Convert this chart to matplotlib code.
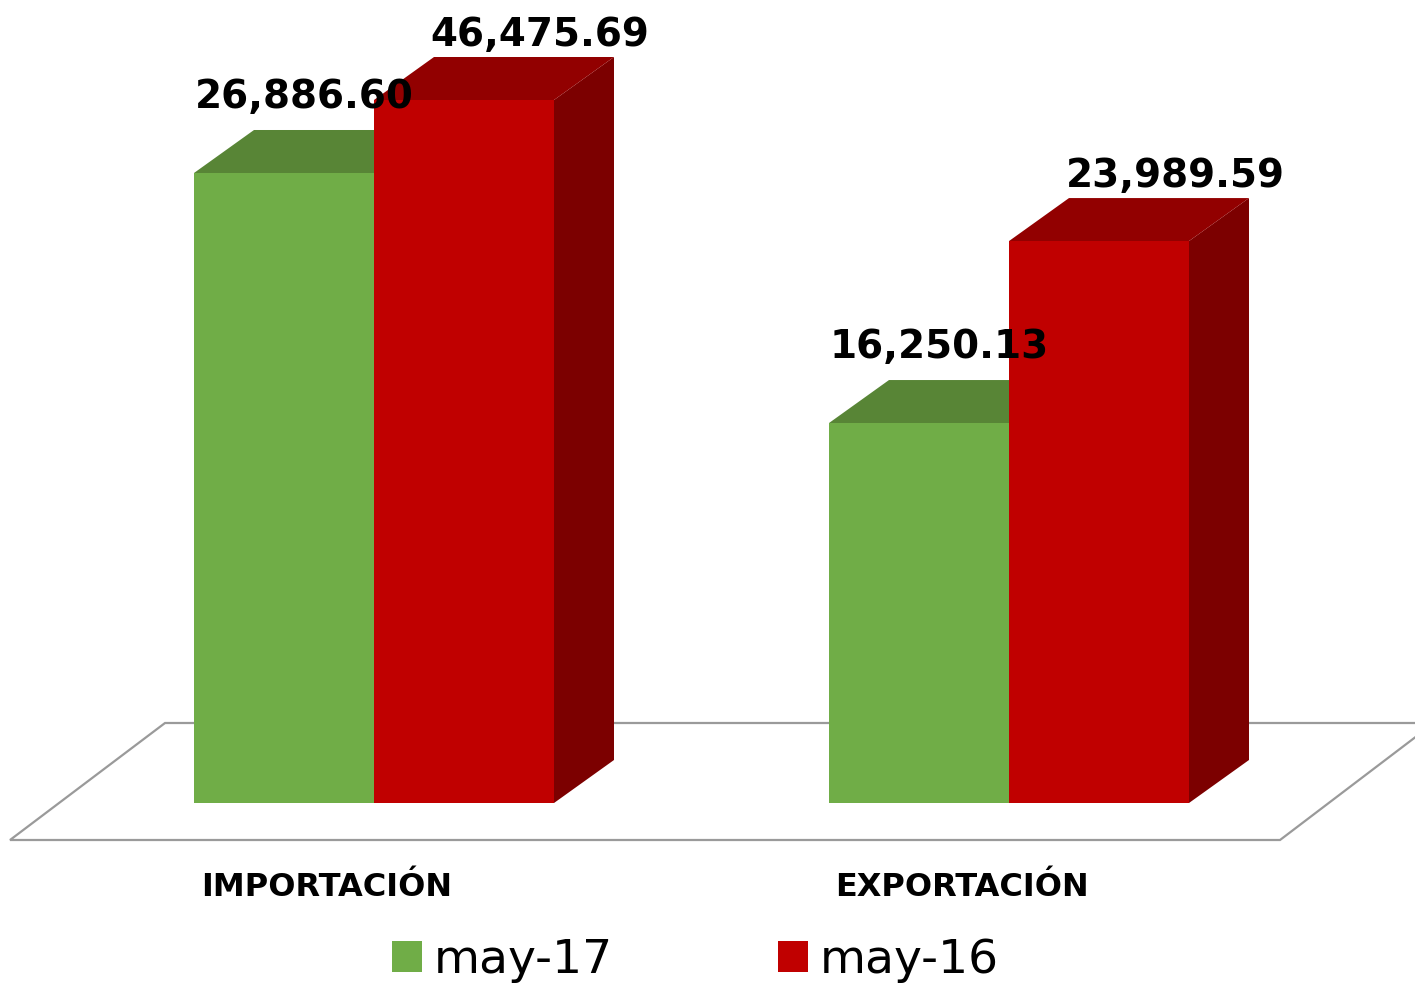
import matplotlib.pyplot as plt
from matplotlib.patches import Polygon, Patch

# datos
categories = ['IMPORTACIÓN', 'EXPORTACIÓN']
series = ['may-17', 'may-16']
values_may17 = [26886.60, 16250.13]
values_may16 = [46475.69, 23989.59]
# altura de las columnas tal como se ven en el gráfico original
# (en el original las columnas no siguen proporcionalmente a las etiquetas)
heights_may17 = [41650, 25120]
heights_may16 = [46475.69, 37150]

front_colors = ['#70AD47', '#C00000']
top_colors = ['#588536', '#920000']
side_colors = ['#5A8A38', '#7C0000']

k = 46475.69 / 703          # valor por pixel
bar_w = 180 / 635
dx = 60 / 635
dy = 43 * k

fig = plt.figure(figsize=(14.15, 9.85), dpi=100)
ax = fig.add_axes([0, 0, 1, 1])
ax.set_xlim(-374 / 635, (1415 - 374) / 635)
ax.set_ylim(-(985 - 803) * k, 803 * k)
ax.axis('off')

# piso
floor_front = -37 * k
floor_back = 80 * k
floor = Polygon([(-0.5732, floor_front), (1.4268, floor_front),
                 (1.6693, floor_back), (-0.3291, floor_back)],
                closed=True, facecolor='white', edgecolor='#9a9a9a', lw=1.6, zorder=1)
ax.add_patch(floor)

x = range(len(categories))
all_heights = [heights_may17, heights_may16]
all_values = [values_may17, values_may16]
label_dx = [-10, 46]
label_dy = [22, 11]

for s in range(2):
    for i in x:
        h = all_heights[s][i]
        x0 = i + (s - 1) * bar_w
        x1 = x0 + bar_w
        z = 2 + s
        ax.add_patch(Polygon([(x1, 0), (x1 + dx, dy), (x1 + dx, h + dy), (x1, h)],
                             facecolor=side_colors[s], edgecolor='none', zorder=z))
        ax.add_patch(Polygon([(x0, h), (x1, h), (x1 + dx, h + dy), (x0 + dx, h + dy)],
                             facecolor=top_colors[s], edgecolor='none', zorder=z))
        ax.annotate(f'{all_values[s][i]:,.2f}', xy=((x0 + x1) / 2 + dx / 2, h + dy),
                    xytext=(label_dx[s], label_dy[s]), textcoords='offset pixels',
                    ha='center', va='baseline', fontsize=28, fontweight='bold',
                    family='DejaVu Sans', color='black', zorder=10)
    ax.bar([i + (s - 0.5) * bar_w for i in x], all_heights[s], width=bar_w,
           color=front_colors[s], zorder=2 + s + 0.5)

for i, c in enumerate(categories):
    ax.text(i - 0.074, (803 - 887) * k, c, ha='center', va='center',
            fontsize=23, fontweight='bold', family='DejaVu Sans')

handles = [Patch(facecolor=front_colors[s], edgecolor='none') for s in range(2)]
ax.legend(handles, series, loc='center', bbox_to_anchor=(0.4915, 0.025), ncol=2,
          frameon=False, handlelength=0.64, handleheight=0.64,
          handletextpad=0.25, columnspacing=3.5, borderpad=0,
          prop={'family': 'DejaVu Sans', 'size': 34})

plt.savefig('out.png', dpi=100)
